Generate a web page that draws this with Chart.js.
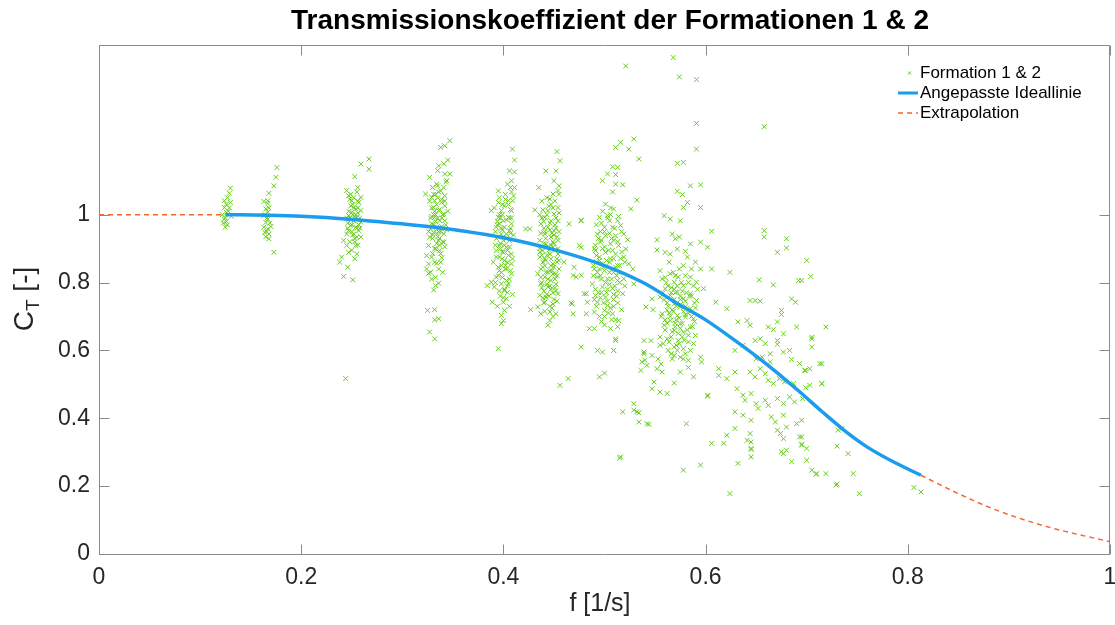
<!DOCTYPE html>
<html>
<head>
<meta charset="utf-8">
<script src="https://cdn.jsdelivr.net/npm/chart.js@4.4.0/dist/chart.umd.min.js"></script>
<style>
    body { margin: 0; background: #fff; }
    #wrap { width: 1115px; height: 625px; }
</style>
</head>
<body>
<div id="wrap"><canvas id="GraficoCT" width="1115" height="625"></canvas></div>
<script>
// Messpunkte je Frequenzgruppe [f, C_T]
const punkte0125 = [[0.130,1.078],[0.129,1.063],[0.124,1.041],[0.126,1.031],[0.130,1.036],[0.124,1.021],[0.126,1.007],[0.125,0.990],[0.124,0.987],[0.126,0.980],[0.125,0.963],[0.122,1.000],[0.128,1.010],[0.131,0.995],[0.127,1.050],[0.123,0.975],[0.127,0.970],[0.129,1.020]];
const punkte0167 = [[0.176,1.139],[0.175,1.110],[0.173,1.085],[0.168,1.063],[0.167,1.041],[0.163,1.039],[0.167,1.033],[0.165,1.017],[0.167,1.007],[0.163,0.997],[0.167,0.987],[0.165,0.977],[0.163,0.963],[0.167,0.958],[0.164,0.948],[0.168,0.943],[0.165,0.935],[0.168,0.929],[0.173,0.889],[0.166,0.990],[0.169,0.975],[0.164,1.000],[0.170,0.965],[0.166,0.950],[0.168,1.020]];
const punkte025 = [[0.267,1.164],[0.259,1.149],[0.267,1.134],[0.253,1.112],[0.256,1.080],[0.245,1.071],[0.255,1.067],[0.247,1.056],[0.259,1.051],[0.250,1.041],[0.257,1.036],[0.249,1.026],[0.254,1.017],[0.259,1.012],[0.250,1.007],[0.247,0.997],[0.255,0.992],[0.252,0.982],[0.259,0.978],[0.249,0.968],[0.254,0.963],[0.247,0.953],[0.257,0.953],[0.252,0.943],[0.245,0.943],[0.259,0.934],[0.255,0.934],[0.242,0.924],[0.245,0.909],[0.254,0.909],[0.255,0.884],[0.247,0.889],[0.240,0.875],[0.238,0.860],[0.246,0.845],[0.242,0.818],[0.251,0.808],[0.244,0.517],[0.251,1.000],[0.253,0.990],[0.249,0.985],[0.256,1.005],[0.252,1.020],[0.250,0.970],[0.255,0.960],[0.248,1.045],[0.258,0.990],[0.246,0.975],
    [0.251,1.030],[0.254,1.000],[0.248,0.990],[0.257,0.970],[0.250,0.950],[0.253,0.930],[0.246,0.960],[0.256,1.040],[0.249,1.060],[0.253,0.920],
    [0.247,1.010],[0.256,1.020],[0.252,1.050],[0.245,0.990],[0.258,0.960],[0.251,0.940],[0.248,0.920],[0.256,0.910],[0.250,0.895],[0.253,0.870]];
const punkte0333 = [[0.347,1.218],[0.342,1.203],[0.338,1.198],[0.345,1.161],[0.336,1.144],[0.342,1.120],[0.347,1.120],[0.343,1.096],[0.334,1.090],[0.341,1.080],[0.323,1.061],[0.336,1.067],[0.342,1.056],[0.329,1.051],[0.332,1.041],[0.339,1.036],[0.342,1.026],[0.331,1.021],[0.336,1.012],[0.341,1.002],[0.332,0.992],[0.337,0.982],[0.342,0.982],[0.329,0.973],[0.334,0.963],[0.339,0.958],[0.331,0.948],[0.341,0.943],[0.327,0.934],[0.336,0.924],[0.341,0.919],[0.326,0.909],[0.332,0.899],[0.337,0.894],[0.324,0.879],[0.329,0.875],[0.339,0.873],[0.334,0.857],[0.326,0.855],[0.324,0.840],[0.326,0.827],[0.336,0.798],[0.333,0.791],[0.331,0.778],[0.325,0.718],[0.332,0.720],[0.332,0.690],[0.336,0.693],[0.327,0.654],[0.332,0.634],
    [0.333,1.000],[0.335,0.990],[0.331,0.970],[0.338,0.950],[0.334,1.030],[0.336,0.960],[0.330,0.940],[0.339,0.990],[0.332,1.010],[0.337,0.930],[0.334,0.915],[0.333,0.980],[0.340,1.000],[0.328,0.990],
    [0.335,1.050],[0.329,1.020],[0.338,1.070],[0.331,1.000],[0.343,0.970],[0.336,0.950],[0.330,0.930],[0.340,0.920],[0.333,0.900],[0.338,0.885],[0.328,0.960],[0.342,1.040],[0.335,1.085],[0.331,1.060],[0.337,1.015],[0.339,0.965],[0.334,0.945],[0.332,0.860],[0.336,0.840],[0.329,0.810],
    [0.327,1.110],[0.335,1.130],[0.341,1.150],[0.330,1.080],[0.344,1.100],[0.333,1.060],[0.327,1.040],[0.339,1.045],[0.345,1.010],[0.329,0.995],[0.344,0.955],[0.326,0.950],[0.335,0.935],[0.342,0.905],[0.330,0.885],[0.338,0.860],[0.328,0.830],[0.340,0.830],[0.333,0.815],[0.337,0.910]];
const punkte040 = [[0.409,1.193],[0.411,1.161],[0.406,1.129],[0.411,1.126],[0.408,1.100],[0.407,1.080],[0.411,1.080],[0.408,1.067],[0.405,1.041],[0.409,1.041],[0.395,1.036],[0.388,1.012],[0.401,1.026],[0.398,1.012],[0.408,1.012],[0.395,0.992],[0.405,0.992],[0.400,0.982],[0.396,0.973],[0.408,0.973],[0.401,0.963],[0.393,0.963],[0.406,0.953],[0.398,0.943],[0.403,0.943],[0.395,0.934],[0.400,0.924],[0.406,0.924],[0.396,0.909],[0.403,0.904],[0.393,0.894],[0.400,0.889],[0.408,0.884],[0.396,0.875],[0.401,0.865],[0.390,0.860],[0.408,0.855],[0.395,0.845],[0.403,0.840],[0.398,0.830],[0.408,0.826],[0.393,0.816],[0.403,0.806],[0.388,0.801],[0.384,0.791],[0.398,0.796],[0.405,0.796],[0.391,0.787],[0.401,0.776],[0.403,0.752],[0.389,0.742],[0.400,0.742],[0.401,0.718],[0.398,0.703],[0.400,0.688],[0.398,0.679],[0.395,0.605],
    [0.394,0.980],[0.406,0.990],[0.399,1.030],[0.403,0.930],[0.397,0.900],[0.405,0.880],[0.392,0.950],[0.401,0.910],[0.407,0.960],[0.396,1.000],[0.404,0.860],[0.398,0.850],
    [0.402,1.060],[0.396,1.050],[0.405,1.030],[0.399,1.000],[0.403,0.985],[0.394,0.970],[0.407,0.945],[0.400,0.935],[0.397,0.915],[0.404,0.895],[0.399,0.870],[0.402,0.840],[0.395,0.820],[0.406,0.810],[0.401,0.780],[0.397,0.760],[0.404,0.770],[0.399,0.955],[0.393,0.930],[0.408,0.990],
    [0.395,1.070],[0.404,1.090],[0.410,1.055],[0.391,1.020],[0.407,1.015],[0.397,0.990],[0.410,0.940],[0.392,0.910],[0.406,0.905],[0.399,0.890],[0.393,0.875],[0.409,0.870],[0.402,0.850],[0.396,0.835],[0.407,0.835],[0.399,0.815],[0.392,0.800],[0.404,0.790],[0.396,0.775],[0.409,0.765],[0.400,0.755],[0.394,0.730],[0.406,0.730],[0.402,1.045],[0.398,0.960]];
const punkte045 = [[0.453,1.186],[0.456,1.159],[0.442,1.129],[0.452,1.129],[0.450,1.100],[0.455,1.085],[0.454,1.071],[0.435,1.080],[0.449,1.061],[0.446,1.046],[0.439,1.014],[0.431,1.014],[0.454,1.021],[0.444,1.012],[0.450,1.002],[0.441,0.992],[0.447,0.982],[0.454,0.982],[0.437,0.973],[0.444,0.963],[0.450,0.953],[0.441,0.943],[0.447,0.934],[0.436,0.924],[0.454,0.924],[0.442,0.914],[0.449,0.904],[0.439,0.894],[0.446,0.884],[0.454,0.884],[0.436,0.875],[0.442,0.865],[0.449,0.855],[0.439,0.845],[0.446,0.835],[0.434,0.826],[0.452,0.826],[0.441,0.816],[0.447,0.806],[0.437,0.796],[0.444,0.787],[0.452,0.776],[0.436,0.762],[0.442,0.757],[0.454,0.767],[0.441,0.742],[0.427,0.720],[0.434,0.728],[0.449,0.737],[0.437,0.708],[0.446,0.713],[0.452,0.708],[0.446,0.688],[0.444,0.674],[0.426,0.958],[0.422,0.958],
    [0.477,0.982],[0.465,0.973],[0.460,0.860],[0.470,0.845],[0.469,0.821],[0.477,0.821],[0.468,0.737],[0.469,0.708],[0.456,0.497],[0.464,0.517],[0.477,0.610],[0.482,0.767],[0.475,0.909],
    [0.438,0.990],[0.452,0.960],[0.441,0.950],[0.449,0.920],[0.444,0.905],[0.453,0.870],[0.439,0.860],[0.447,0.850],[0.442,0.830],[0.451,0.810],[0.437,0.815],[0.446,0.790],[0.440,0.775],[0.449,0.770],[0.443,0.795],[0.454,0.900],[0.436,0.890],[0.448,0.835],[0.441,0.870],[0.450,0.940],
    [0.447,1.030],[0.451,1.040],[0.443,1.000],[0.452,0.990],[0.446,0.975],[0.440,0.960],[0.455,0.950],[0.448,0.945],[0.442,0.930],[0.450,0.915],[0.445,0.895],[0.438,0.880],[0.453,0.860],[0.447,0.870],[0.441,0.850],[0.449,0.825],[0.444,0.810],[0.452,0.795],[0.438,0.800],[0.447,0.780],[0.443,0.765],[0.450,0.750],[0.440,0.740],[0.448,0.725],[0.455,0.840],
    [0.443,1.050],[0.455,1.060],[0.438,1.040],[0.449,1.020],[0.445,1.025],[0.436,1.000],[0.455,1.005],[0.440,0.980],[0.451,0.970],[0.437,0.945],[0.446,0.955],[0.453,0.935],[0.440,0.915],[0.447,0.910],[0.436,0.900],[0.451,0.895],[0.443,0.880],[0.455,0.865],[0.437,0.840],[0.450,0.845],[0.444,0.830],[0.453,0.820],[0.438,0.785],[0.451,0.785],[0.445,0.760],[0.439,0.755],[0.453,0.745],[0.446,0.730],[0.441,0.715],[0.449,0.700]];
const punkte050 = [[0.511,1.198],[0.516,1.213],[0.524,1.193],[0.529,1.223],[0.508,1.141],[0.513,1.139],[0.503,1.120],[0.511,1.118],[0.498,1.100],[0.511,1.090],[0.518,1.088],[0.508,1.067],[0.501,1.031],[0.506,1.020],[0.509,1.017],[0.526,1.017],[0.495,0.992],[0.503,0.997],[0.505,0.982],[0.513,0.982],[0.500,0.963],[0.508,0.963],[0.516,0.968],[0.493,0.943],[0.501,0.938],[0.511,0.938],[0.519,0.943],[0.496,0.919],[0.506,0.914],[0.514,0.909],[0.491,0.894],[0.501,0.889],[0.511,0.884],[0.519,0.875],[0.495,0.865],[0.505,0.860],[0.513,0.850],[0.490,0.840],[0.500,0.835],[0.509,0.830],[0.493,0.816],[0.503,0.811],[0.513,0.806],[0.488,0.796],[0.498,0.787],[0.508,0.782],[0.518,0.767],[0.491,0.762],[0.501,0.757],[0.493,0.742],[0.503,0.732],[0.490,0.713],[0.500,0.718],[0.508,0.708],[0.483,0.742],[0.482,0.708],[0.485,0.664],[0.490,0.664],[0.506,0.664],[0.511,0.629],[0.514,0.688],[0.493,0.600],[0.498,0.595],[0.509,0.600],[0.495,0.522],[0.500,0.533],[0.519,0.811],[0.524,0.855],[0.529,0.796],[0.480,0.767],[0.467,0.740],[0.472,0.816],[0.477,0.904],
    [0.477,0.984],[0.511,0.634],[0.509,0.600],[0.529,0.443],[0.529,0.424],[0.534,0.416],[0.518,0.419],[0.534,0.389],[0.544,0.382],[0.515,0.283],[0.516,0.286],[0.521,1.438],[0.534,1.164],[0.532,1.043],[0.523,0.926],[0.521,0.899],[0.528,0.840],
    [0.492,0.860],[0.508,0.840],[0.497,0.810],[0.512,0.820],[0.494,0.770],[0.503,0.780],[0.510,0.790],[0.489,0.820],[0.501,0.800],[0.506,0.870],[0.495,0.840],[0.515,0.850],[0.498,0.900],[0.507,0.930],[0.491,0.910],[0.512,0.760],[0.499,0.740],[0.504,0.710],[0.509,0.730],[0.496,0.950],
    [0.503,0.990],[0.497,0.975],[0.510,0.960],[0.505,0.945],[0.494,0.930],[0.513,0.920],[0.500,0.905],[0.508,0.895],[0.492,0.880],[0.516,0.870],[0.502,0.865],[0.497,0.855],[0.511,0.845],[0.505,0.830],[0.493,0.830],[0.515,0.800],[0.502,0.770],[0.509,0.765],[0.496,0.755],[0.513,0.740],[0.492,0.730],[0.506,0.725],[0.500,0.700],[0.511,0.690],[0.497,0.685],
    [0.498,1.010],[0.506,1.000],[0.514,0.995],[0.492,0.970],[0.500,0.950],[0.517,0.950],[0.509,0.925],[0.497,0.925],[0.490,0.900],[0.504,0.895],[0.517,0.890],[0.495,0.875],[0.509,0.870],[0.520,0.860],[0.499,0.845],[0.489,0.850],[0.514,0.830],[0.496,0.820],[0.507,0.810],[0.520,0.790],[0.491,0.780],[0.505,0.795],[0.513,0.775],[0.497,0.770],[0.509,0.750],[0.490,0.750],[0.503,0.745],[0.517,0.720],[0.495,0.700],[0.507,0.690],[0.500,0.675],[0.513,0.670]];
const punkte057 = [[0.568,1.463],[0.574,1.406],[0.591,1.398],[0.591,1.269],[0.591,1.193],[0.572,1.151],[0.578,1.154],[0.585,1.085],[0.595,1.088],[0.572,1.069],[0.577,1.059],[0.582,1.036],[0.595,1.021],[0.578,1.021],[0.559,0.997],[0.565,0.987],[0.575,0.982],[0.606,0.951],[0.552,0.926],[0.567,0.943],[0.570,0.929],[0.574,0.934],[0.585,0.914],[0.595,0.919],[0.602,0.904],[0.552,0.896],[0.560,0.889],[0.565,0.884],[0.572,0.899],[0.580,0.892],[0.582,0.875],[0.590,0.860],[0.606,0.840],[0.595,0.840],[0.555,0.835],[0.565,0.826],[0.573,0.816],[0.585,0.816],[0.557,0.811],[0.591,0.801],[0.569,0.801],[0.578,0.791],[0.598,0.782],[0.560,0.782],[0.572,0.772],[0.585,0.767],[0.565,0.762],[0.555,0.757],[0.578,0.752],[0.591,0.747],[0.569,0.737],[0.575,0.728],[0.585,0.723],[0.562,0.718],[0.557,0.708],[0.572,0.703],[0.580,0.698],[0.588,0.693],[0.565,0.688],[0.575,0.679],[0.559,0.674],[0.585,0.669],[0.569,0.659],[0.578,0.654],[0.590,0.644],[0.555,0.639],[0.562,0.634],[0.573,0.629],[0.583,0.625],[0.555,0.615],[0.569,0.610],[0.578,0.605],[0.539,0.629],[0.546,0.629],[0.539,0.595],[0.547,0.585],[0.553,0.575],[0.567,0.575],[0.575,0.580],[0.583,0.571],[0.596,0.566],[0.537,0.566],[0.595,0.580],[0.552,0.546],[0.557,0.536],[0.575,0.536],[0.549,0.507],[0.569,0.504],[0.588,0.522],[0.547,0.487],[0.555,0.477],[0.562,0.473],[0.532,0.419],[0.542,0.384],[0.581,0.384],[0.602,0.468],[0.578,0.247],[0.595,0.262],[0.624,0.178],
    [0.541,0.728],[0.548,0.720],[0.542,0.556],[0.547,0.752],[0.539,0.590],[0.540,0.571],[0.536,0.541],[0.602,0.465],
    [0.567,0.720],[0.575,0.750],[0.562,0.740],[0.580,0.730],[0.571,0.690],[0.565,0.700],[0.583,0.710],[0.570,0.770],[0.577,0.680],[0.560,0.660],[0.573,0.650],[0.587,0.670],[0.566,0.640],[0.579,0.630],[0.569,0.780],[0.576,0.800],[0.563,0.790],[0.584,0.760],[0.572,0.600],[0.558,0.620],
    [0.574,0.840],[0.568,0.830],[0.580,0.820],[0.561,0.800],[0.588,0.790],[0.572,0.790],[0.566,0.770],[0.581,0.770],[0.575,0.760],[0.559,0.750],[0.589,0.740],[0.571,0.730],[0.578,0.715],[0.564,0.710],[0.586,0.700],[0.570,0.680],[0.582,0.660],[0.560,0.690],[0.575,0.665],[0.567,0.655],[0.588,0.620],[0.574,0.620],[0.563,0.600],[0.580,0.590],[0.569,0.585],
    [0.564,0.860],[0.578,0.850],[0.586,0.840],[0.570,0.820],[0.560,0.815],[0.583,0.800],[0.592,0.780],[0.566,0.785],[0.577,0.775],[0.558,0.770],[0.586,0.760],[0.569,0.750],[0.580,0.745],[0.563,0.730],[0.575,0.735],[0.590,0.725],[0.568,0.715],[0.556,0.700],[0.580,0.705],[0.574,0.695],[0.589,0.685],[0.562,0.680],[0.570,0.670],[0.583,0.645],[0.577,0.640],[0.564,0.625],[0.571,0.615],[0.585,0.600],[0.566,0.590],[0.578,0.575],[0.556,0.560],[0.583,0.550]];
const punkteStreu = [[0.624,0.830],[0.610,0.742],[0.621,0.723],[0.644,0.747],[0.649,0.747],[0.654,0.745],[0.658,0.953],[0.658,0.934],[0.680,0.929],[0.680,0.902],[0.671,0.889],[0.700,0.865],[0.653,0.808],[0.667,0.793],[0.692,0.806],[0.695,0.806],[0.704,0.818],[0.685,0.752],[0.689,0.742],[0.632,0.684],[0.641,0.688],[0.644,0.674],[0.675,0.718],[0.675,0.706],[0.662,0.669],[0.667,0.661],[0.671,0.684],[0.690,0.669],[0.719,0.669],[0.649,0.629],[0.654,0.634],[0.659,0.620],[0.671,0.629],[0.671,0.618],[0.677,0.649],[0.705,0.639],[0.705,0.610],[0.637,0.615],[0.629,0.600],[0.650,0.575],[0.656,0.580],[0.664,0.590],[0.664,0.566],[0.677,0.595],[0.683,0.600],[0.685,0.573],[0.693,0.561],[0.713,0.561],[0.698,0.541],[0.703,0.546],[0.613,0.546],[0.613,0.526],[0.621,0.517],[0.629,0.536],[0.644,0.536],[0.649,0.522],[0.654,0.546],[0.659,0.531],[0.662,0.512],[0.667,0.502],[0.673,0.517],[0.678,0.507],[0.687,0.502],[0.715,0.502],[0.631,0.487],[0.637,0.468],[0.639,0.453],[0.645,0.473],[0.650,0.443],[0.652,0.429],[0.659,0.453],[0.662,0.438],[0.671,0.458],[0.677,0.443],[0.683,0.463],[0.688,0.448],[0.696,0.458],[0.629,0.419],[0.637,0.409],[0.645,0.394],[0.665,0.404],[0.669,0.389],[0.677,0.409],[0.690,0.384],[0.695,0.394],[0.671,0.365],[0.674,0.355],[0.680,0.374],[0.629,0.370],[0.644,0.355],[0.621,0.350],[0.641,0.335],[0.677,0.340],[0.693,0.345],[0.606,0.326],[0.618,0.326],[0.645,0.311],[0.645,0.286],[0.677,0.296],[0.695,0.321],[0.700,0.311],[0.632,0.267],[0.685,0.272],[0.700,0.276],[0.705,0.247],[0.710,0.237],[0.719,0.237],[0.729,0.203],
    [0.658,1.259],[0.705,0.634],[0.715,0.561],[0.699,0.541],[0.715,0.502],[0.703,0.497],[0.699,0.490],[0.731,0.365],[0.735,0.370],[0.730,0.318],[0.741,0.296],[0.709,0.235],[0.746,0.237],[0.730,0.206],[0.752,0.178],[0.806,0.196],[0.813,0.183],[0.695,0.345],[0.695,0.324],[0.645,0.308],[0.645,0.330],[0.675,0.301],[0.680,0.306]];

// Angepasste Ideallinie
const fitF  = [0.125, 0.167, 0.2, 0.25, 0.3, 0.333, 0.36, 0.4, 0.45, 0.5, 0.54, 0.571, 0.6, 0.631, 0.663, 0.693, 0.715, 0.739, 0.76, 0.788, 0.813];
const fitCT = [1.000, 0.998, 0.995, 0.986, 0.973, 0.963, 0.952, 0.932, 0.897, 0.850, 0.797, 0.740, 0.690, 0.625, 0.553, 0.478, 0.420, 0.360, 0.315, 0.268, 0.232];

// Extrapolation links und rechts
const extraLinksF  = [0, 0.06, 0.125];
const extraLinksCT = [1.0, 1.0, 1.0];
const extraRechtsF  = [0.813, 0.85, 0.887, 0.936, 1.0];
const extraRechtsCT = [0.232, 0.178, 0.130, 0.082, 0.036];

const yTicks = [0, 0.2, 0.4, 0.6, 0.8, 1];

const gruen = '#66cc1a';
const blau = '#1c9cec';
const orange = '#f06a30';
const achse = '#8a8a8a';
const schrift = '#262626';
const FONT = '"Liberation Sans", Arial, sans-serif';

const alleStreu = [].concat(punkte0125, punkte0167, punkte025, punkte0333, punkte040, punkte045, punkte050, punkte057, punkteStreu)
    .map(p => ({ x: p[0], y: p[1] }));
const zip = (xs, ys) => xs.map((x, i) => ({ x: x, y: ys[i] }));
const tickText = v => String(Number(Number(v).toFixed(1)));

// Rahmen mit nach innen zeigenden Ticks, Achsentitel, Legende, Titel
const rahmenPlugin = {
    id: 'rahmen',
    afterDraw(chart) {
        const ctx = chart.ctx, a = chart.chartArea;
        const sx = chart.scales.x, sy = chart.scales.y;
        const L = Math.round(a.left) + 0.5, R = Math.round(a.right) - 0.5;
        const T = Math.round(a.top) + 0.5, B = Math.round(a.bottom) + 0.5;
        ctx.save();
        ctx.strokeStyle = achse;
        ctx.lineWidth = 1;
        ctx.beginPath();
        ctx.moveTo(L, T); ctx.lineTo(R, T); ctx.lineTo(R, B); ctx.lineTo(L, B); ctx.closePath();
        sx.ticks.forEach(t => {
            const px = Math.round(sx.getPixelForValue(t.value)) + 0.5;
            ctx.moveTo(px, B); ctx.lineTo(px, B - 10);
            ctx.moveTo(px, T); ctx.lineTo(px, T + 10);
        });
        sy.ticks.forEach(t => {
            const py = Math.round(sy.getPixelForValue(t.value)) + 0.5;
            ctx.moveTo(L, py); ctx.lineTo(L + 10, py);
            ctx.moveTo(R, py); ctx.lineTo(R - 10, py);
        });
        ctx.stroke();

        // Titel
        ctx.fillStyle = '#000';
        ctx.font = 'bold 28px ' + FONT;
        ctx.textAlign = 'center';
        ctx.textBaseline = 'middle';
        ctx.fillText('Transmissionskoeffizient der Formationen 1 & 2', 610, 21);

        // x-Achsentitel
        ctx.fillStyle = schrift;
        ctx.font = '25px ' + FONT;
        ctx.fillText('f [1/s]', 600, 604);

        // y-Achsentitel mit Index
        ctx.save();
        ctx.translate(25, 299);
        ctx.rotate(-Math.PI / 2);
        ctx.textAlign = 'left';
        ctx.textBaseline = 'middle';
        ctx.font = '28px ' + FONT;
        const wC = ctx.measureText('C').width;
        ctx.font = '19px ' + FONT;
        const wT = ctx.measureText('T').width;
        ctx.font = '28px ' + FONT;
        const wR = ctx.measureText(' [-]').width;
        let x0 = -(wC + wT + wR) / 2;
        ctx.fillText('C', x0, 0);
        ctx.font = '19px ' + FONT;
        ctx.fillText('T', x0 + wC, 9);
        ctx.font = '28px ' + FONT;
        ctx.fillText(' [-]', x0 + wC + wT, 0);
        ctx.restore();

        // Legende
        ctx.font = '17px ' + FONT;
        ctx.textAlign = 'left';
        ctx.textBaseline = 'middle';
        ctx.fillStyle = '#000';
        const lx = 898, tx = 920, rows = [73, 93, 113];
        ctx.strokeStyle = gruen; ctx.lineWidth = 1;
        ctx.beginPath();
        ctx.moveTo(908, rows[0] - 1.5); ctx.lineTo(911, rows[0] + 1.5);
        ctx.moveTo(911, rows[0] - 1.5); ctx.lineTo(908, rows[0] + 1.5);
        ctx.stroke();
        ctx.strokeStyle = blau; ctx.lineWidth = 3;
        ctx.beginPath(); ctx.moveTo(lx, rows[1]); ctx.lineTo(lx + 20, rows[1]); ctx.stroke();
        ctx.strokeStyle = orange; ctx.lineWidth = 1.5; ctx.setLineDash([5, 4]);
        ctx.beginPath(); ctx.moveTo(lx, rows[2]); ctx.lineTo(lx + 20, rows[2]); ctx.stroke();
        ctx.setLineDash([]);
        ctx.fillText('Formation 1 & 2', tx, rows[0]);
        ctx.fillText('Angepasste Ideallinie', tx, rows[1]);
        ctx.fillText('Extrapolation', tx, rows[2]);
        ctx.restore();
    }
};

var ctx = document.getElementById('GraficoCT').getContext('2d');

var GraficoCT = new Chart(ctx, {
    type: 'scatter',
    data: {
        datasets: [
            {
                label: 'Angepasste Ideallinie',
                data: zip(fitF, fitCT),
                showLine: true,
                borderColor: blau,
                borderWidth: 3.5,
                pointRadius: 0,
                cubicInterpolationMode: 'monotone'
            },
            {
                label: 'Extrapolation',
                data: zip(extraRechtsF, extraRechtsCT),
                showLine: true,
                borderColor: orange,
                borderWidth: 1.5,
                borderDash: [5, 4],
                pointRadius: 0,
                cubicInterpolationMode: 'monotone'
            },
            {
                label: 'Extrapolation links',
                data: zip(extraLinksF, extraLinksCT),
                showLine: true,
                borderColor: orange,
                borderWidth: 1.5,
                borderDash: [5, 4],
                pointRadius: 0
            },
            {
                label: 'Formation 1 & 2',
                data: alleStreu,
                pointStyle: 'crossRot',
                pointRadius: 3.4,
                borderColor: gruen,
                backgroundColor: gruen,
                borderWidth: 1
            }
        ]
    },
    options: {
        responsive: false,
        animation: false,
        events: [],
        layout: { padding: { top: 45, right: 2, left: 0, bottom: 0 } },
        plugins: {
            legend: { display: false },
            title: { display: false },
            tooltip: { enabled: false }
        },
        scales: {
            x: {
                type: 'linear',
                min: 0,
                max: 1,
                grid: { display: false, drawTicks: false },
                border: { display: false },
                ticks: {
                    stepSize: 0.2,
                    padding: 10,
                    color: schrift,
                    font: { family: FONT, size: 23 },
                    callback: tickText
                },
                afterFit: s => { s.height = 71; s.paddingLeft = 0; s.paddingRight = 0; }
            },
            y: {
                type: 'linear',
                min: 0,
                max: 1.5,
                grid: { display: false, drawTicks: false },
                border: { display: false },
                ticks: {
                    padding: 9,
                    color: schrift,
                    font: { family: FONT, size: 23 },
                    callback: tickText
                },
                afterBuildTicks: s => { s.ticks = yTicks.map(v => ({ value: v })); },
                afterFit: s => { s.width = 99; }
            }
        }
    },
    plugins: [rahmenPlugin]
});
</script>
</body>
</html>
